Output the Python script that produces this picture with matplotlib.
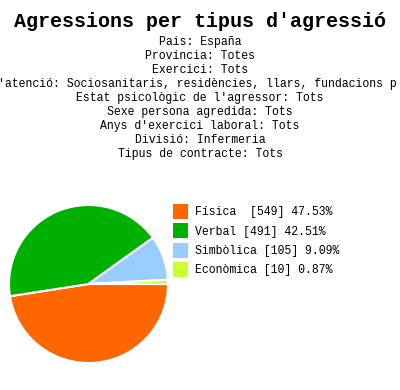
import matplotlib.pyplot as plt
from matplotlib.patches import Rectangle

labels = ["Física ", "Verbal", "Simbòlica", "Econòmica"]
counts = [549, 491, 105, 10]
percents = [47.53, 42.51, 9.09, 0.87]
colors = ["#FF6600", "#00B000", "#99CCFF", "#CCFF33"]

title = "Agressions per tipus d'agressió"
filters = [
    "Pais: España",
    "Província: Totes",
    "Exercici: Tots",
    "'atenció: Sociosanitaris, residències, llars, fundacions p",
    "Estat psicològic de l'agressor: Tots",
    "Sexe persona agredida: Tots",
    "Anys d'exercici laboral: Tots",
    "Divisió: Infermeria",
    "Tipus de contracte: Tots",
]

W, H = 400, 390
fig = plt.figure(figsize=(W / 100, H / 100), dpi=100)
font = "Liberation Mono"
small = 8.3

def fy(py):
    return 1 - py / H

fig.text(0.5, fy(27), title, ha="center", va="baseline", family=font,
         fontweight="bold", fontsize=14.4)
for i, line in enumerate(filters):
    if line.startswith("'"):
        # centred line wider than the image, only this part is visible
        fig.text(-1.5 / W, fy(45 + 14 * i), line, ha="left", va="baseline",
                 family=font, fontsize=small)
    else:
        fig.text(0.5, fy(45 + 14 * i), line, ha="center", va="baseline",
                 family=font, fontsize=small)

# pie
ax = fig.add_axes([9 / W, (H - 363) / H, 159 / W, 158 / H])
ax.pie(counts, colors=colors, startangle=0, counterclock=False,
       wedgeprops=dict(edgecolor="white", linewidth=1.5))
ax.set_xlim(-1, 1)
ax.set_ylim(-1, 1)
ax.set_aspect("auto")
ax.axis("off")

# legend
for i, (lab, c, p, col) in enumerate(zip(labels, counts, percents, colors)):
    top = 204 + 19.3 * i
    fig.patches.append(Rectangle((173 / W, fy(top + 15)), 15 / W, 15 / H,
                                 transform=fig.transFigure, facecolor=col,
                                 edgecolor="none"))
    fig.text(195 / W, fy(top + 11.5), f"{lab} [{c}] {p:.2f}%", ha="left",
             va="baseline", family=font, fontsize=small)

fig.savefig("out.png", dpi=100)
